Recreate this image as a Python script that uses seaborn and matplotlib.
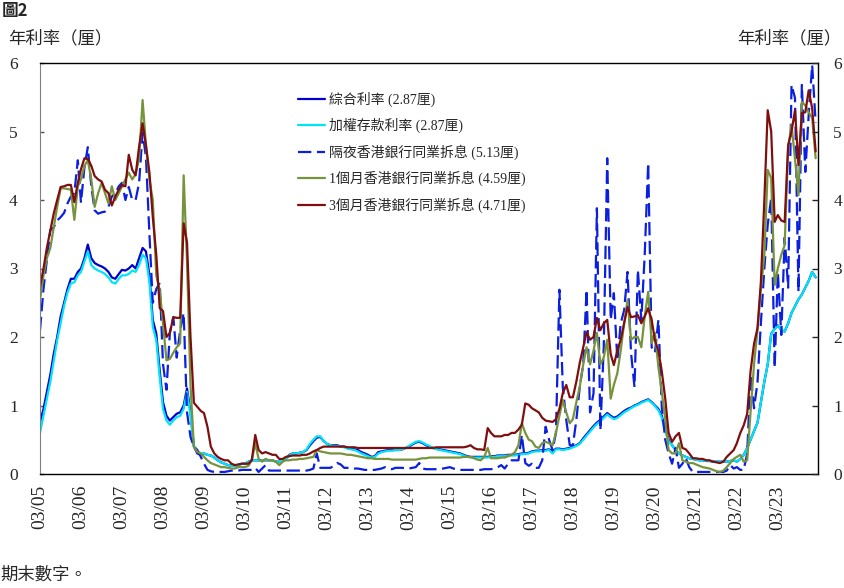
import pandas as pd
import matplotlib
matplotlib.use("Agg")
import matplotlib.pyplot as plt
import matplotlib.dates as mdates
import seaborn as sns

sns.set_style("white")
plt.rcParams['font.family'] = ['Liberation Serif', 'Noto Sans CJK TC']
CJK = ['Noto Sans CJK TC']

# monthly data, Mar 2005 - Feb 2024 (one row per year, Mar..Feb)
months = pd.date_range("2005-03-01", periods=228, freq="MS")

composite = [
    0.75, 0.95, 1.2, 1.45, 1.75, 2.0, 2.3, 2.5, 2.7, 2.85, 2.85, 2.95,
    3.0, 3.15, 3.35, 3.15, 3.08, 3.05, 3.03, 3.0, 2.95, 2.87, 2.85, 2.92,
    2.98, 2.97, 3.0, 3.05, 3.0, 3.15, 3.3, 3.25, 2.9, 2.25, 2.05, 1.5,
    1.05, 0.85, 0.78, 0.83, 0.88, 0.9, 1.0, 1.25, 0.9, 0.4, 0.3, 0.28,
    0.3, 0.28, 0.27, 0.24, 0.2, 0.17, 0.15, 0.13, 0.12, 0.12, 0.13, 0.15,
    0.15, 0.18, 0.2, 0.2, 0.2, 0.2, 0.2, 0.2, 0.2, 0.18, 0.18, 0.2,
    0.22, 0.28, 0.3, 0.3, 0.31, 0.32, 0.35, 0.42, 0.48, 0.53, 0.54, 0.48,
    0.44, 0.42, 0.42, 0.42, 0.4, 0.4, 0.38, 0.37, 0.36, 0.35, 0.32, 0.3,
    0.28, 0.25, 0.26, 0.32, 0.33, 0.34, 0.35, 0.35, 0.35, 0.35, 0.36, 0.38,
    0.4, 0.43, 0.46, 0.47, 0.45, 0.42, 0.4, 0.38, 0.37, 0.36, 0.35, 0.34,
    0.33, 0.32, 0.31, 0.3, 0.28, 0.26, 0.25, 0.25, 0.25, 0.25, 0.25, 0.25,
    0.26, 0.26, 0.27, 0.27, 0.27, 0.28, 0.28, 0.28, 0.29, 0.3, 0.3, 0.31,
    0.33, 0.34, 0.34, 0.35, 0.35, 0.36, 0.33, 0.37, 0.37, 0.36, 0.37, 0.38,
    0.4, 0.42, 0.45, 0.52, 0.58, 0.64, 0.7, 0.75, 0.79, 0.84, 0.89, 0.85,
    0.82, 0.84, 0.88, 0.92, 0.95, 0.97, 1.0, 1.02, 1.05, 1.07, 1.09, 1.05,
    1.0, 0.95, 0.85, 0.65, 0.5, 0.42, 0.35, 0.3, 0.27, 0.25, 0.23, 0.22,
    0.21, 0.2, 0.2, 0.19, 0.19, 0.18, 0.18, 0.18, 0.18, 0.18, 0.19, 0.2,
    0.18, 0.22, 0.28, 0.38, 0.5, 0.62, 0.75, 1.05, 1.35, 1.6, 2.05, 2.12,
    2.17, 2.1, 2.08, 2.2, 2.35, 2.45, 2.55, 2.62, 2.72, 2.82, 2.95, 2.87,
]

deposit = [
    0.6, 0.85, 1.1, 1.35, 1.65, 1.95, 2.2, 2.45, 2.65, 2.78, 2.8, 2.9,
    2.95, 3.1, 3.25, 3.05, 3.0, 2.97, 2.95, 2.92, 2.87, 2.8, 2.78, 2.85,
    2.9, 2.9, 2.92, 2.97, 2.95, 3.05, 3.2, 3.15, 2.8, 2.15, 1.95, 1.4,
    0.95, 0.78, 0.72, 0.78, 0.83, 0.85, 0.95, 1.2, 0.85, 0.42, 0.33, 0.3,
    0.3, 0.28, 0.27, 0.24, 0.2, 0.17, 0.15, 0.13, 0.12, 0.12, 0.13, 0.15,
    0.15, 0.18, 0.2, 0.2, 0.2, 0.2, 0.2, 0.2, 0.2, 0.18, 0.18, 0.2,
    0.22, 0.27, 0.3, 0.3, 0.31, 0.32, 0.36, 0.44, 0.5, 0.55, 0.55, 0.48,
    0.44, 0.42, 0.41, 0.41, 0.4, 0.39, 0.37, 0.36, 0.35, 0.33, 0.3, 0.28,
    0.26, 0.24, 0.25, 0.3, 0.32, 0.33, 0.34, 0.34, 0.35, 0.35, 0.36, 0.38,
    0.41, 0.44, 0.47, 0.48, 0.46, 0.43, 0.41, 0.38, 0.36, 0.35, 0.34, 0.33,
    0.32, 0.31, 0.3, 0.29, 0.27, 0.25, 0.24, 0.24, 0.24, 0.24, 0.24, 0.24,
    0.25, 0.25, 0.26, 0.26, 0.26, 0.27, 0.27, 0.27, 0.28, 0.29, 0.29, 0.3,
    0.32, 0.33, 0.33, 0.34, 0.34, 0.35, 0.3, 0.36, 0.36, 0.35, 0.36, 0.37,
    0.39, 0.41, 0.44, 0.5, 0.56, 0.62, 0.68, 0.73, 0.77, 0.82, 0.87, 0.83,
    0.8, 0.82, 0.86, 0.9, 0.93, 0.96, 0.99, 1.01, 1.04, 1.06, 1.08, 1.04,
    0.99, 0.93, 0.82, 0.62, 0.48, 0.42, 0.35, 0.3, 0.27, 0.25, 0.23, 0.22,
    0.21, 0.2, 0.2, 0.19, 0.19, 0.18, 0.18, 0.18, 0.18, 0.18, 0.19, 0.2,
    0.18, 0.22, 0.28, 0.38, 0.5, 0.62, 0.75, 1.05, 1.35, 1.6, 2.05, 2.12,
    2.17, 2.1, 2.08, 2.2, 2.35, 2.45, 2.55, 2.62, 2.72, 2.82, 2.95, 2.87,
]

hibor_on = [
    2.1, 2.7, 3.12, 3.56, 3.6, 3.7, 3.75, 3.81, 3.95, 4.05, 4.1, 4.58,
    3.96, 4.48, 4.77, 4.2, 3.85, 3.8, 3.82, 3.83, 3.9, 4.05, 4.1, 4.2,
    4.25, 4.0, 4.19, 4.0, 4.0, 4.25, 4.98, 4.63, 3.5, 2.5, 2.7, 2.79,
    1.6, 1.23, 2.06, 2.29, 1.7, 2.1, 2.35, 0.9, 0.54, 0.4, 0.35, 0.25,
    0.15, 0.06, 0.04, 0.03, 0.03, 0.03, 0.03, 0.04, 0.05, 0.05, 0.05, 0.06,
    0.06, 0.06, 0.06, 0.09, 0.03, 0.08, 0.13, 0.05, 0.05, 0.05, 0.05, 0.05,
    0.05, 0.05, 0.05, 0.05, 0.05, 0.05, 0.05, 0.06, 0.08, 0.3, 0.09, 0.09,
    0.09, 0.09, 0.12, 0.16, 0.14, 0.09, 0.09, 0.09, 0.08, 0.08, 0.07, 0.06,
    0.06, 0.06, 0.06, 0.07, 0.08, 0.1, 0.08, 0.07, 0.09, 0.09, 0.09, 0.08,
    0.08, 0.09, 0.1, 0.16, 0.08, 0.07, 0.07, 0.07, 0.07, 0.07, 0.08, 0.09,
    0.1, 0.08, 0.07, 0.06, 0.06, 0.06, 0.06, 0.06, 0.06, 0.06, 0.07, 0.07,
    0.07, 0.08, 0.1, 0.13, 0.08, 0.15, 0.2, 0.2, 0.2, 0.57, 0.16, 0.12,
    0.15, 0.09, 0.09, 0.2, 0.69, 0.5, 0.35, 0.6, 2.69, 1.27, 0.79, 0.42,
    0.42, 0.79, 1.27, 1.6, 2.69, 0.9, 1.18, 3.88, 0.64, 1.85, 4.61, 2.25,
    2.64, 1.66, 2.2, 2.39, 2.95, 1.77, 1.27, 2.98, 2.25, 3.2, 4.54, 1.85,
    1.77, 2.25, 0.98, 0.5, 0.3, 0.15, 0.38, 0.09, 0.15, 0.23, 0.1, 0.03,
    0.03, 0.03, 0.03, 0.03, 0.03, 0.03, 0.03, 0.03, 0.03, 0.05, 0.13, 0.08,
    0.1, 0.06, 0.06, 0.3, 1.45, 0.96, 1.34, 2.2, 3.0, 3.64, 4.03, 1.55,
    2.95, 2.03, 3.45, 2.72, 5.68, 5.49, 2.66, 5.68, 4.41, 5.24, 5.97, 5.13,
]

hibor_1m = [
    2.54, 2.9, 3.15, 3.3, 3.6, 3.9, 4.17, 4.17, 4.16, 4.15, 3.71, 4.2,
    4.3, 4.5, 4.58, 4.3, 3.9, 4.1, 4.25, 4.1, 3.95, 4.2, 4.0, 4.1,
    4.2, 4.3, 4.4, 4.3, 4.38, 4.6, 5.46, 4.8, 4.3, 4.0, 2.9, 2.68,
    2.2, 1.66, 1.68, 1.77, 1.85, 1.91, 4.36, 3.1, 1.3, 0.4, 0.32, 0.3,
    0.25, 0.2, 0.16, 0.14, 0.12, 0.1, 0.1, 0.09, 0.08, 0.08, 0.1, 0.1,
    0.1, 0.12, 0.2, 0.45, 0.22, 0.18, 0.22, 0.2, 0.2, 0.18, 0.13, 0.18,
    0.2, 0.2, 0.21, 0.21, 0.22, 0.22, 0.23, 0.24, 0.25, 0.35, 0.33, 0.32,
    0.31, 0.3, 0.3, 0.3, 0.3, 0.29, 0.28, 0.28, 0.27, 0.26, 0.25, 0.24,
    0.23, 0.23, 0.22, 0.22, 0.22, 0.22, 0.22, 0.21, 0.21, 0.21, 0.21, 0.21,
    0.21, 0.21, 0.21, 0.22, 0.23, 0.23, 0.24, 0.24, 0.24, 0.24, 0.24, 0.24,
    0.24, 0.24, 0.24, 0.24, 0.25, 0.25, 0.25, 0.23, 0.21, 0.2, 0.25, 0.38,
    0.23, 0.23, 0.23, 0.24, 0.24, 0.26, 0.28, 0.32, 0.42, 0.74, 0.6, 0.5,
    0.48, 0.4, 0.38, 0.45, 0.47, 0.45, 0.42, 0.6, 0.85, 1.08, 0.9, 0.74,
    0.8, 1.05, 1.27, 1.6, 1.85, 1.6, 1.8, 2.06, 1.6, 1.7, 1.96, 1.1,
    1.3, 1.47, 1.8, 2.2, 2.54, 1.96, 2.0, 2.0, 1.85, 2.3, 2.66, 1.91,
    2.06, 1.56, 1.2, 0.8, 0.35, 0.3, 0.3, 0.45, 0.2, 0.18, 0.16, 0.16,
    0.14, 0.12, 0.1, 0.09, 0.08, 0.06, 0.04, 0.03, 0.05, 0.1, 0.16, 0.22,
    0.25, 0.28, 0.18, 0.2, 0.9, 1.6, 2.1, 2.7, 3.2, 4.44, 4.32, 2.76,
    3.0, 3.2, 3.34, 4.76, 5.1, 4.6, 4.07, 5.43, 5.38, 5.28, 5.2, 4.61,
]

hibor_3m = [
    2.73, 3.0, 3.3, 3.55, 3.8, 4.0, 4.19, 4.2, 4.22, 4.22, 3.97, 4.25,
    4.45, 4.61, 4.6, 4.5, 4.35, 4.3, 4.27, 4.15, 4.1, 3.92, 4.05, 4.15,
    4.22, 4.2, 4.66, 4.44, 4.36, 4.78, 5.12, 4.8, 4.4, 3.75, 3.2, 2.42,
    2.38, 2.0, 2.06, 2.29, 2.28, 2.28, 3.66, 3.38, 2.0, 1.04, 0.98, 0.92,
    0.89, 0.69, 0.4, 0.3, 0.25, 0.22, 0.2, 0.2, 0.15, 0.13, 0.14, 0.15,
    0.15, 0.15, 0.2, 0.57, 0.35, 0.3, 0.32, 0.3, 0.28, 0.28, 0.22, 0.22,
    0.25, 0.26, 0.27, 0.27, 0.27, 0.28, 0.28, 0.3, 0.33, 0.35, 0.38, 0.4,
    0.4, 0.4, 0.4, 0.4, 0.4, 0.4, 0.39, 0.39, 0.39, 0.38, 0.38, 0.38,
    0.38, 0.38, 0.38, 0.38, 0.38, 0.38, 0.38, 0.38, 0.38, 0.38, 0.38, 0.38,
    0.38, 0.38, 0.38, 0.38, 0.38, 0.38, 0.38, 0.38, 0.39, 0.39, 0.39, 0.39,
    0.39, 0.39, 0.39, 0.39, 0.39, 0.4, 0.42, 0.38, 0.36, 0.36, 0.35, 0.67,
    0.6, 0.55, 0.55, 0.55, 0.57, 0.57, 0.6, 0.6, 0.65, 0.72, 1.03, 1.01,
    0.96, 0.93, 0.9, 0.82, 0.78, 0.77, 0.76, 0.8, 0.95, 1.18, 1.3, 1.12,
    1.12, 1.35, 1.62, 1.85, 2.07, 1.96, 2.0, 2.28, 2.1, 2.2, 2.25, 1.75,
    1.59, 1.8, 1.96, 2.2, 2.44, 2.29, 2.3, 2.32, 2.2, 2.3, 2.42, 2.25,
    1.95, 1.8, 1.5, 1.1, 0.6, 0.47, 0.55, 0.6, 0.38, 0.36, 0.3, 0.23,
    0.23, 0.22, 0.22, 0.2, 0.2, 0.18, 0.17, 0.16, 0.18, 0.25, 0.3, 0.35,
    0.45, 0.6, 0.71, 0.88, 1.5, 1.9, 2.13, 2.8, 4.0, 5.31, 5.0, 3.68,
    3.78, 3.7, 3.68, 4.8, 5.0, 5.31, 4.51, 5.27, 5.28, 5.6, 5.34, 4.71,
]

labels = ['綜合利率 (2.87厘)', '加權存款利率 (2.87厘)', '隔夜香港銀行同業拆息 (5.13厘)',
          '1個月香港銀行同業拆息 (4.59厘)', '3個月香港銀行同業拆息 (4.71厘)']
colors = ['#0000CC', '#00E5F5', '#0A1FE0', '#77933C', '#7F0F0F']
styles = ['-', '-', (0, (6, 2.5)), '-', '-']

fig = plt.figure(figsize=(8.45, 5.88), dpi=100)
ax = fig.add_axes([40 / 845, 1 - 474 / 588, 778 / 845, 411 / 588])

for vals, lab, col, ls in zip([composite, deposit, hibor_on, hibor_1m, hibor_3m], labels, colors, styles):
    sns.lineplot(x=months, y=vals, ax=ax, color=col, linewidth=1.6, linestyle=ls, label=lab)

ax.set_ylim(0, 6)
ax.set_xlim(pd.Timestamp("2005-03-01"), pd.Timestamp("2024-02-22"))
ax.set_xlabel("")
ax.set_ylabel("")

ax.xaxis.set_major_locator(mdates.MonthLocator(bymonth=3))
ax.xaxis.set_major_formatter(mdates.DateFormatter('%m/%y'))
ax.xaxis.set_minor_locator(mdates.MonthLocator(bymonth=[3, 6, 9, 12]))
ax.tick_params(axis='x', which='major', direction='inout', length=8, width=1, pad=4,
               labelsize=14, labelrotation=90, color='black')
ax.tick_params(axis='x', which='minor', direction='in', length=3, width=1, color='black')
ax.set_yticks(range(0, 7))
ax.tick_params(axis='y', which='major', direction='in', length=3, width=1, pad=16,
               labelsize=12.5, color='#555555')

for side in ['top', 'right', 'bottom']:
    ax.spines[side].set_color('black')
    ax.spines[side].set_linewidth(1)
ax.spines['left'].set_color('#808080')

ax2 = ax.twinx()
ax2.set_ylim(0, 6)
ax2.set_yticks(range(0, 7))
ax2.tick_params(axis='y', direction='in', length=4, width=1, pad=11, labelsize=12.5)
for sp in ax2.spines.values():
    sp.set_visible(False)

leg = ax.legend(loc='upper left', bbox_to_anchor=(0.331, 0.93), frameon=False,
                fontsize=10, handlelength=2.0, handletextpad=0.25, labelspacing=0.8,
                borderpad=0, borderaxespad=0)

fig.text(2 / 845, 1 - 11 / 588, '圖2', family=CJK, fontsize=12, fontweight='bold', va='center')
fig.text(8 / 845, 1 - 38 / 588, '年利率（厘）', family=CJK, fontsize=12.5, va='center')
fig.text(737 / 845, 1 - 38 / 588, '年利率（厘）', family=CJK, fontsize=12.5, va='center')
fig.text(0, 1 - 575 / 588, '期末數字。', family=CJK, fontsize=12.5, va='center')

fig.savefig("out.png", dpi=100)
